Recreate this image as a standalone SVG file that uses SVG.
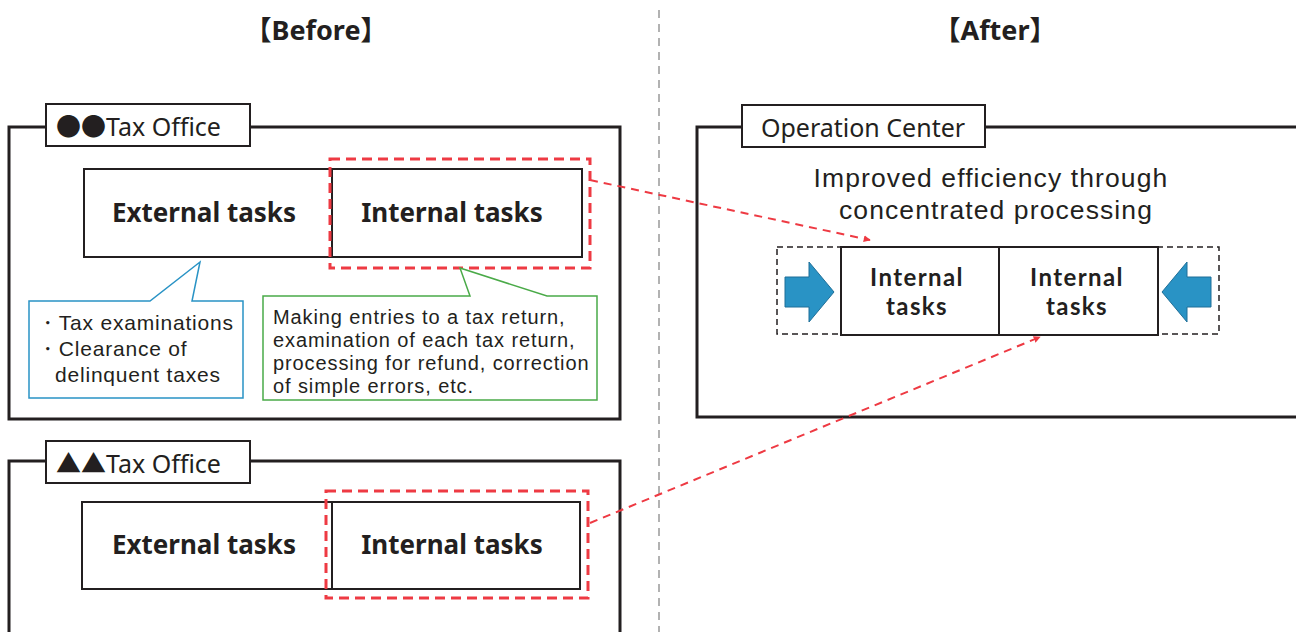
<svg xmlns="http://www.w3.org/2000/svg" width="1296" height="632" viewBox="0 0 1296 632">
<defs>
<style>
text{font-family:"Noto Sans","Open Sans","Noto Sans CJK JP",sans-serif;fill:#231f20}
.title{font-size:27px;font-weight:bold}
.lbl{font-size:25px}
.sym{font-family:"Noto Sans CJK JP",sans-serif}
.task{font-size:26px;font-weight:bold}
.mtask{font-size:24px;font-weight:bold;font-family:Lato,"Noto Sans",sans-serif;letter-spacing:1.4px}
.note{font-size:20px;font-family:"Liberation Sans",Arial,sans-serif;letter-spacing:0.9px}
.bnote{font-size:21px;font-family:"Liberation Sans",Arial,sans-serif;letter-spacing:0.8px}
.big{font-size:26.5px;font-family:"Liberation Sans",Arial,sans-serif;letter-spacing:1.1px}
.outer{fill:#fff;stroke:#231f20;stroke-width:3}
.box{fill:#fff;stroke:#231f20;stroke-width:2}
.red{fill:none;stroke:#ee3a43;stroke-width:3;stroke-dasharray:10 6}
.redline{fill:none;stroke:#ee3a43;stroke-width:2;stroke-dasharray:8 6}
.arrow{fill:#2993c5;stroke:#1f6f98;stroke-width:1}
</style>
<marker id="ah" viewBox="0 0 10 10" refX="9" refY="5" markerWidth="7" markerHeight="7" orient="auto" markerUnits="userSpaceOnUse">
<path d="M0,0 L10,5 L0,10 z" fill="#ee3a43"/>
</marker>
</defs>
<rect width="1296" height="632" fill="#fff"/>

<g id="titles">
<text class="title" x="316" y="40" text-anchor="middle">【Before】</text>
<text class="title" x="995" y="40" text-anchor="middle">【After】</text>
</g>
<line x1="659" y1="10" x2="659" y2="632" stroke="#999" stroke-width="1.5" stroke-dasharray="8 6"/>

<g id="office1">
<rect class="outer" x="9" y="127" width="611" height="292"/>
<rect class="box" x="46" y="104" width="204" height="42"/>
<text class="lbl" x="56" y="136"><tspan class="sym">●●</tspan>Tax Office</text>
</g>
<g id="ext1">
<rect class="box" x="84" y="169" width="248" height="88"/>
<text class="task" x="204" y="222" text-anchor="middle">External tasks</text>
</g>
<g id="int1">
<rect class="box" x="332" y="169" width="250" height="88"/>
<text class="task" x="452" y="222" text-anchor="middle">Internal tasks</text>
<rect class="red" x="330" y="159" width="260" height="109"/>
</g>
<g id="note-blue">
<path d="M29,301 H150 L200,262 L192,301 H243 V398 H29 Z" fill="#fff" stroke="#2993c5" stroke-width="1.5"/>
<text class="bnote"><tspan x="37" y="330">・Tax examinations</tspan><tspan x="37" y="356">・Clearance of</tspan><tspan x="55" y="382">delinquent taxes</tspan></text>
</g>
<g id="note-green">
<path d="M263,296 H470 L460,268 L547,296 H597 V400 H263 Z" fill="#fff" stroke="#4aaa48" stroke-width="1.5"/>
<text class="note"><tspan x="273" y="324">Making entries to a tax return,</tspan><tspan x="273" y="347">examination of each tax return,</tspan><tspan x="273" y="370">processing for refund, correction</tspan><tspan x="273" y="393">of simple errors, etc.</tspan></text>
</g>

<g id="office2">
<rect class="outer" x="9" y="461" width="611" height="180"/>
<rect class="box" x="46" y="441" width="204" height="42"/>
<text class="lbl" x="56" y="473"><tspan class="sym">▲▲</tspan>Tax Office</text>
</g>
<g id="ext2">
<rect class="box" x="82" y="502" width="250" height="87"/>
<text class="task" x="204" y="554" text-anchor="middle">External tasks</text>
</g>
<g id="int2">
<rect class="box" x="332" y="502" width="248" height="87"/>
<text class="task" x="452" y="554" text-anchor="middle">Internal tasks</text>
<rect class="red" x="326" y="491" width="262" height="107"/>
</g>

<g id="center">
<rect class="outer" x="697" y="127" width="610" height="290"/>
<rect class="box" x="742" y="105" width="243" height="42"/>
<text class="lbl" x="863" y="137" text-anchor="middle">Operation Center</text>
<text class="big" text-anchor="middle"><tspan x="991" y="187">Improved efficiency through</tspan><tspan x="996" y="219">concentrated processing</tspan></text>
</g>
<g id="merged">
<rect x="777" y="247" width="442" height="87" fill="none" stroke="#231f20" stroke-width="1.5" stroke-dasharray="6 4"/>
<rect class="box" x="841" y="247" width="158" height="88"/>
<rect class="box" x="999" y="247" width="159" height="88"/>
<text class="mtask" text-anchor="middle"><tspan x="917" y="286">Internal</tspan><tspan x="917" y="315">tasks</tspan></text>
<text class="mtask" text-anchor="middle"><tspan x="1077" y="286">Internal</tspan><tspan x="1077" y="315">tasks</tspan></text>
<path class="arrow" d="M785,277 H809 V262 L834,292 L809,322 V307 H785 Z"/>
<path class="arrow" d="M1211,277 H1187 V262 L1162,292 L1187,322 V307 H1211 Z"/>
</g>

<g id="connectors">
<line class="redline" x1="590" y1="180" x2="870" y2="240" marker-end="url(#ah)"/>
<line class="redline" x1="590" y1="523" x2="1040" y2="337" marker-end="url(#ah)"/>
</g>
</svg>
